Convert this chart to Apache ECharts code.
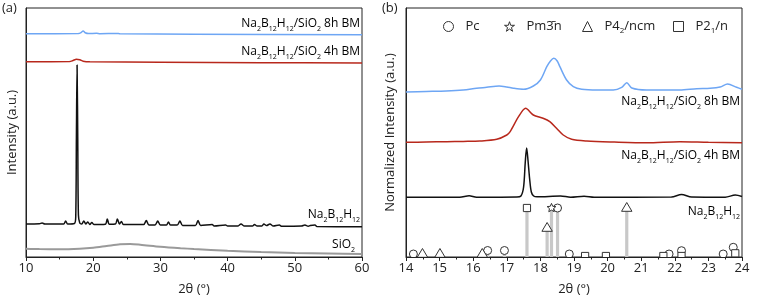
<!DOCTYPE html>
<html><head><meta charset="utf-8">
<script src="https://cdn.jsdelivr.net/npm/echarts@6/dist/echarts.min.js"></script>
<style>html,body{margin:0;padding:0;background:#fff}#c{width:762px;height:301px}</style>
</head><body><div id="c"></div>
<script>
// ---------- panel (a): 2θ 10–60, intensity (a.u.) ----------
const a_bm8 = [[10,223.3],[17.8,223.5],[18.2,224.5],[18.5,226],[18.8,224.3],[19.3,223.4],[20.5,223.8],[21,223.3],[23.5,223.6],[24,223.2],[35,222.8],[60,222.3]];
const a_bm4 = [[10,195.3],[16.5,195.4],[17,196.5],[17.5,197.8],[18,197.2],[18.5,195.8],[19.5,195.2],[30,194.8],[45,194.3],[60,194]];
const a_pure = [[10,33],[12,33.2],[12.4,34],[12.8,33],[15.6,33],[15.9,36],[16.2,33],[17.2,33.5],[17.4,40],[17.5,120],[17.6,192],[17.7,120],[17.8,42],[18.0,34],[18.3,33],[18.6,36],[18.9,33],[19.2,35],[19.5,32.5],[19.8,34.5],[20.1,32.5],[21.8,32.8],[22.1,38],[22.4,32.8],[23.3,33],[23.6,38],[23.9,33],[24.2,35.5],[24.5,32.5],[27.5,32.5],[27.9,36.5],[28.3,32],[29.2,32],[29.6,36],[30.0,32],[30.9,32],[31.2,35],[31.5,32],[32.5,32],[32.9,36],[33.3,31.5],[35.2,31.5],[35.6,36.5],[36,31.5],[37.7,32.5],[38,31],[39.7,32],[40,31],[41.5,31],[42,33],[42.5,31],[43.7,31],[44,32.5],[44.4,31],[45.1,31],[45.4,33],[45.8,31.5],[46.3,33],[46.8,31],[47.7,32],[48,30.8],[51,31],[51.5,32],[52,30.8],[52.3,31.5],[53,32],[53.3,30.5],[60,30.3]];
const a_sio2 = [[10,8.3],[12,7.9],[15,7.7],[18,8.3],[20,9.3],[22,11],[24,12.7],[25.5,13],[27,12.3],[30,10.3],[33,8.8],[35,8],[40,6.3],[45,5],[50,4],[55,3.5],[60,3]];

// ---------- panel (b): 2θ 14–24, normalized intensity ----------
const b_bm8 = [[14,165],[14.6,165.5],[15.2,166],[15.7,167],[16.1,168.7],[16.4,169.7],[16.77,171],[17.0,170],[17.2,168.7],[17.5,167.7],[17.79,171],[18.0,177],[18.19,190.3],[18.3,196],[18.4,198.7],[18.5,196],[18.58,190.3],[18.78,177],[18.98,170.3],[19.23,167.7],[19.7,167],[20.17,167],[20.42,169.7],[20.57,174.3],[20.72,169],[21.16,167],[21.7,167],[22.15,167],[22.65,168.3],[23.05,168.7],[23.35,170],[23.57,173],[23.84,169.7],[24,167.7]];
const b_bm4 = [[14,114.7],[14.6,115],[15.21,115.3],[15.7,115.6],[16.2,116],[16.7,117.7],[17.0,122],[17.1,125.3],[17.35,140.3],[17.56,148.7],[17.79,142],[18.08,138.7],[18.28,135.3],[18.48,128.7],[18.68,122],[18.93,117.7],[19.38,116],[20.2,115],[21.16,114.3],[22.15,115.3],[23,114.7],[24,114.3]];
const b_pure = [[14,59.7],[15.6,59.8],[15.88,61.3],[16.1,59.8],[17.3,60],[17.42,61],[17.5,70],[17.55,95],[17.59,109],[17.63,97],[17.68,78],[17.73,65],[17.8,61],[17.9,60.2],[18.6,61],[18.9,59.8],[19.3,60.8],[19.6,59.8],[21.9,60],[22.2,62.5],[22.5,60],[23.5,59.8],[23.8,62],[24,60.5]];

// reference reflections (position, relative height)
const b_Pc = [[14.22,3],[16.43,6.5],[16.93,6.5],[18.51,49],[18.86,3],[21.83,3],[22.2,6.3],[23.44,3],[23.74,9.7]];
const b_Pm3n = [[18.33,49]];
const b_P42ncm = [[14.49,3.5],[15.01,3.5],[16.27,3.5],[18.2,29.5],[20.57,49.5]];
const b_P21n = [[17.6,49],[19.33,1],[19.95,1],[21.66,1],[22.2,1],[23.8,3.7]];

const phaseNames = ['Pc', 'Pm3\u0304n', 'P4_2/ncm', 'P2_1/n'];
const sampleLabels = ['Na_2B_12H_12/SiO_2 8h BM', 'Na_2B_12H_12/SiO_2 4h BM', 'Na_2B_12H_12', 'SiO_2'];

const C_BLUE = '#6ea6f4', C_RED = '#b8281c', C_BLACK = '#111', C_GREY = '#9a9a9a';
const FONT = '"Open Sans", "Noto Sans", sans-serif';

function toRich(s) {
  // "_n" marks a subscript
  return s.replace(/_(\d+)/g, '{s|$1}').split(/(\{s\|\d+\})/).map(t => t.startsWith('{s|') ? t : (t ? '{n|' + t + '}' : '')).join('');
}
function richStyles(color, size, sub) {
  return {
    n: {fontSize: size, fontFamily: FONT, color: color, lineHeight: 16},
    s: {fontSize: sub, fontFamily: FONT, color: color, lineHeight: 8, verticalAlign: 'bottom'}
  };
}
function label(str, x, y, color) {
  return {type: 'text', x: x, y: y, style: {text: toRich(str), rich: richStyles(color, 12, 7), align: 'right', verticalAlign: 'middle'}};
}

const chart = echarts.init(document.getElementById('c'), null, {renderer: 'canvas'});

function lineS(data, color, xi, w) {
  return {type: 'line', data, xAxisIndex: xi, yAxisIndex: xi, showSymbol: false, symbol: 'none', smooth: 0.3,
    lineStyle: {color, width: w || 1.5}, itemStyle: {color}, silent: true, animation: false, z: 3};
}

const STAR = 'path://M50,2 L61.5,36.5 L98,36.5 L68.5,58 L79.5,94 L50,72 L20.5,94 L31.5,58 L2,36.5 L38.5,36.5 Z';

function markerSeries(name, data, shape) {
  return {
    type: 'custom', name, xAxisIndex: 1, yAxisIndex: 1, clip: true, z: 6, animation: false, data,
    renderItem(params, api) {
      const p = api.coord([api.value(0), api.value(1)]);
      const st = {fill: '#fff', stroke: '#333', lineWidth: 1};
      if (shape === 'circle') return {type: 'circle', shape: {cx: p[0], cy: p[1], r: 4}, style: st};
      if (shape === 'rect') return {type: 'rect', shape: {x: p[0] - 3.6, y: p[1] - 3.6, width: 7.2, height: 7.2}, style: st};
      if (shape === 'triangle') return {type: 'polygon', shape: {points: [[p[0], p[1] - 5], [p[0] + 5.2, p[1] + 3.8], [p[0] - 5.2, p[1] + 3.8]]}, style: st};
      const pts = [];
      for (let i = 0; i < 10; i++) {
        const r = i % 2 ? 2.1 : 4.6, a = -Math.PI / 2 + i * Math.PI / 5;
        pts.push([p[0] + r * Math.cos(a), p[1] + r * Math.sin(a)]);
      }
      return {type: 'polygon', shape: {points: pts}, style: st};
    }
  };
}

const allRefl = [].concat(b_Pc, b_Pm3n, b_P42ncm, b_P21n);

const axisCommon = {
  axisLine: {show: true, lineStyle: {color: '#222', width: 1}},
  axisTick: {show: true, inside: false, length: 4, lineStyle: {color: '#222'}},
  minorTick: {show: true, splitNumber: 2, length: 2.5, lineStyle: {color: '#222'}},
  axisLabel: {color: '#222', fontSize: 13, fontFamily: FONT, margin: 5},
  splitLine: {show: false},
  nameLocation: 'middle', nameGap: 26,
  nameTextStyle: {color: '#222', fontSize: 13, fontFamily: FONT}
};
const yCommon = {
  type: 'value', min: 0, max: 249,
  axisLine: {show: true, lineStyle: {color: '#222'}}, axisTick: {show: false}, axisLabel: {show: false}, splitLine: {show: false},
  nameLocation: 'middle', nameTextStyle: {color: '#222', fontSize: 13, fontFamily: FONT}
};

const legendIcons = ['circle', STAR, 'triangle', 'rect'];
const legendLeft = [438, 499, 577, 668];
const legends = phaseNames.map((n, i) => ({
  left: legendLeft[i], top: 15, itemWidth: 10, itemHeight: 10, selectedMode: false,
  data: [{name: n, icon: legendIcons[i], itemStyle: {color: '#fff', borderColor: '#333', borderWidth: 1}}],
  formatter: s => toRich(s),
  textStyle: {color: '#222', fontSize: 13, fontFamily: FONT, padding: [0, 0, 0, 7], rich: richStyles('#222', 13, 8)}
}));

const option = {
  backgroundColor: '#fff',
  animation: false,
  grid: [
    {left: 26, top: 8, width: 336, height: 249, show: true, borderColor: '#222', borderWidth: 1, backgroundColor: 'transparent'},
    {left: 406, top: 8, width: 336, height: 249, show: true, borderColor: '#222', borderWidth: 1, backgroundColor: 'transparent'}
  ],
  xAxis: [
    Object.assign({}, axisCommon, {type: 'value', gridIndex: 0, min: 10, max: 60, interval: 10, name: '2θ (°)'}),
    Object.assign({}, axisCommon, {type: 'value', gridIndex: 1, min: 14, max: 24, interval: 1, name: '2θ (°)'})
  ],
  yAxis: [
    Object.assign({}, yCommon, {gridIndex: 0, name: 'Intensity (a.u.)', nameGap: 7}),
    Object.assign({}, yCommon, {gridIndex: 1, name: 'Normalized Intensity (a.u.)', nameGap: 9})
  ],
  legend: legends,
  graphic: [
    {type: 'text', x: 2, y: 2, style: {text: '(a)', font: '13px ' + FONT, fill: '#222'}},
    {type: 'text', x: 382, y: 2, style: {text: '(b)', font: '13px ' + FONT, fill: '#222'}},
    label(sampleLabels[0], 360, 24, C_BLUE),
    label(sampleLabels[1], 360, 52, C_RED),
    label(sampleLabels[2], 360, 215, C_BLACK),
    label(sampleLabels[3], 355, 245, '#aaa'),
    label(sampleLabels[0], 740, 102, C_BLUE),
    label(sampleLabels[1], 740, 156, C_RED),
    label(sampleLabels[2], 740, 212, C_BLACK)
  ],
  series: [
    lineS(a_sio2, C_GREY, 0, 2),
    lineS(a_pure, C_BLACK, 0, 1.5),
    lineS(a_bm4, C_RED, 0, 1.5),
    lineS(a_bm8, C_BLUE, 0, 1.5),
    lineS(b_pure, C_BLACK, 1, 1.5),
    lineS(b_bm4, C_RED, 1, 1.5),
    lineS(b_bm8, C_BLUE, 1, 1.5),
    {
      type: 'custom', name: 'sticks', xAxisIndex: 1, yAxisIndex: 1, clip: true, z: 4, animation: false, data: allRefl,
      renderItem(params, api) {
        const top = api.coord([api.value(0), api.value(1)]);
        const bot = api.coord([api.value(0), 0]);
        return {type: 'rect', shape: {x: top[0] - 1.6, y: top[1], width: 3.2, height: bot[1] - top[1]}, style: {fill: '#c8c8c8'}};
      }
    },
    markerSeries(phaseNames[0], b_Pc, 'circle'),
    markerSeries(phaseNames[1], b_Pm3n, 'star'),
    markerSeries(phaseNames[2], b_P42ncm, 'triangle'),
    markerSeries(phaseNames[3], b_P21n, 'rect')
  ]
};
chart.setOption(option);
</script></body></html>
